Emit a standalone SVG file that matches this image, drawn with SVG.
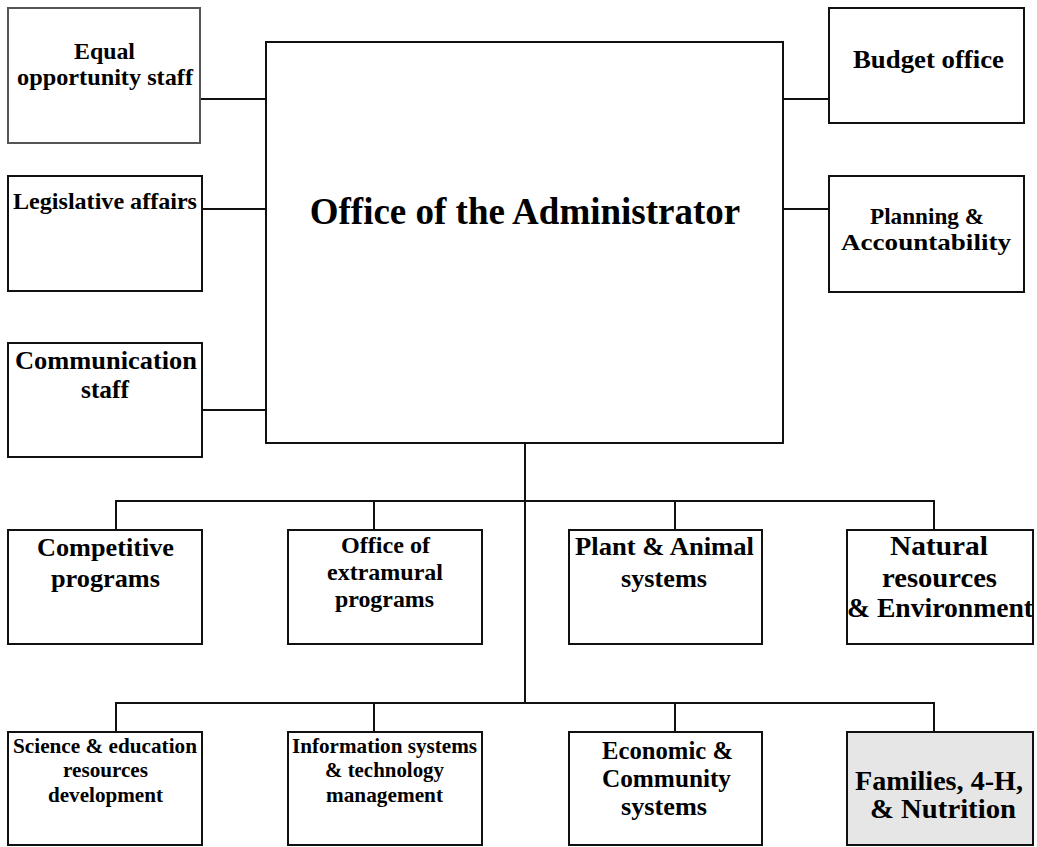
<svg xmlns="http://www.w3.org/2000/svg" width="1037" height="847" viewBox="0 0 1037 847">
<style>
rect.box{fill:#ffffff;stroke:#111111;stroke-width:2}
rect.grey{stroke:#555555}
rect.shaded{fill:#e6e6e6}
.conn line{stroke:#111111;stroke-width:2}
</style>
<rect x="0" y="0" width="1037" height="847" fill="#ffffff"/>
<g class="conn" id="connectors">
<line x1="201" y1="99" x2="266" y2="99"/>
<line x1="202" y1="209" x2="266" y2="209"/>
<line x1="202" y1="410" x2="266" y2="410"/>
<line x1="783" y1="99" x2="829" y2="99"/>
<line x1="783" y1="209" x2="829" y2="209"/>
<line x1="525" y1="443" x2="525" y2="703"/>
<line x1="115" y1="501" x2="935" y2="501"/>
<line x1="116" y1="501" x2="116" y2="530"/>
<line x1="374" y1="501" x2="374" y2="530"/>
<line x1="675" y1="501" x2="675" y2="530"/>
<line x1="934" y1="501" x2="934" y2="530"/>
<line x1="115" y1="703" x2="935" y2="703"/>
<line x1="116" y1="703" x2="116" y2="732"/>
<line x1="374" y1="703" x2="374" y2="732"/>
<line x1="675" y1="703" x2="675" y2="732"/>
<line x1="934" y1="703" x2="934" y2="732"/>
</g>
<g font-family="Liberation Serif" font-weight="bold" fill="#000000" text-anchor="middle">
<g id="main">
<rect class="box" x="266" y="42" width="517" height="401"/>
<text x="525" y="224" font-size="37">Office of the Administrator</text>
</g>
<g id="equal">
<rect class="box grey" x="8" y="8" width="192" height="135"/>
<text x="104.5" y="59" font-size="24" textLength="61" lengthAdjust="spacingAndGlyphs">Equal</text>
<text x="105" y="85" font-size="24" textLength="176" lengthAdjust="spacingAndGlyphs">opportunity staff</text>
</g>
<g id="legislative">
<rect class="box" x="8" y="176" width="194" height="115"/>
<text x="105" y="209" font-size="24" textLength="184" lengthAdjust="spacingAndGlyphs">Legislative affairs</text>
</g>
<g id="communication">
<rect class="box" x="8" y="343" width="194" height="114"/>
<text x="106" y="369" font-size="26" textLength="182" lengthAdjust="spacingAndGlyphs">Communication</text>
<text x="105" y="398" font-size="26" textLength="48" lengthAdjust="spacingAndGlyphs">staff</text>
</g>
<g id="budget">
<rect class="box" x="829" y="8" width="195" height="115"/>
<text x="928.5" y="68" font-size="26" textLength="151" lengthAdjust="spacingAndGlyphs">Budget office</text>
</g>
<g id="planning">
<rect class="box" x="829" y="176" width="195" height="116"/>
<text x="927" y="224" font-size="24" textLength="114" lengthAdjust="spacingAndGlyphs">Planning &amp;</text>
<text x="926" y="250" font-size="24" textLength="170" lengthAdjust="spacingAndGlyphs">Accountability</text>
</g>
<g id="competitive">
<rect class="box" x="8" y="530" width="194" height="114"/>
<text x="105.5" y="556" font-size="26" textLength="137" lengthAdjust="spacingAndGlyphs">Competitive</text>
<text x="105.5" y="587" font-size="26" textLength="109" lengthAdjust="spacingAndGlyphs">programs</text>
</g>
<g id="extramural">
<rect class="box" x="288" y="530" width="194" height="114"/>
<text x="385.5" y="553" font-size="24" textLength="89" lengthAdjust="spacingAndGlyphs">Office of</text>
<text x="385" y="580" font-size="24" textLength="116" lengthAdjust="spacingAndGlyphs">extramural</text>
<text x="384.5" y="607" font-size="24" textLength="99" lengthAdjust="spacingAndGlyphs">programs</text>
</g>
<g id="plantanimal">
<rect class="box" x="569" y="530" width="193" height="114"/>
<text x="664.5" y="555" font-size="26" textLength="179" lengthAdjust="spacingAndGlyphs">Plant &amp; Animal</text>
<text x="664" y="587" font-size="26" textLength="86" lengthAdjust="spacingAndGlyphs">systems</text>
</g>
<g id="natural">
<rect class="box" x="847" y="530" width="186" height="114"/>
<text x="939" y="555" font-size="27" textLength="98" lengthAdjust="spacingAndGlyphs">Natural</text>
<text x="939.5" y="587" font-size="27" textLength="115" lengthAdjust="spacingAndGlyphs">resources</text>
<text x="940" y="617" font-size="27" textLength="186" lengthAdjust="spacingAndGlyphs">&amp; Environment</text>
</g>
<g id="science">
<rect class="box" x="8" y="732" width="194" height="113"/>
<text x="105" y="753" font-size="21" textLength="184" lengthAdjust="spacingAndGlyphs">Science &amp; education</text>
<text x="105.5" y="777" font-size="21" textLength="85" lengthAdjust="spacingAndGlyphs">resources</text>
<text x="105.5" y="802" font-size="21" textLength="115" lengthAdjust="spacingAndGlyphs">development</text>
</g>
<g id="infosys">
<rect class="box" x="288" y="732" width="194" height="113"/>
<text x="384.5" y="753" font-size="21" textLength="185" lengthAdjust="spacingAndGlyphs">Information systems</text>
<text x="384.5" y="777" font-size="21" textLength="119" lengthAdjust="spacingAndGlyphs">&amp; technology</text>
<text x="384.5" y="802" font-size="21" textLength="117" lengthAdjust="spacingAndGlyphs">management</text>
</g>
<g id="economic">
<rect class="box" x="569" y="732" width="193" height="113"/>
<text x="667.5" y="759" font-size="25" textLength="131" lengthAdjust="spacingAndGlyphs">Economic &amp;</text>
<text x="666.5" y="787" font-size="25" textLength="129" lengthAdjust="spacingAndGlyphs">Community</text>
<text x="664" y="815" font-size="25" textLength="86" lengthAdjust="spacingAndGlyphs">systems</text>
</g>
<g id="families">
<rect class="box shaded" x="847" y="732" width="186" height="113"/>
<text x="939" y="790" font-size="27" textLength="168" lengthAdjust="spacingAndGlyphs">Families, 4-H,</text>
<text x="943" y="818" font-size="27" textLength="146" lengthAdjust="spacingAndGlyphs">&amp; Nutrition</text>
</g>
</g>
</svg>
